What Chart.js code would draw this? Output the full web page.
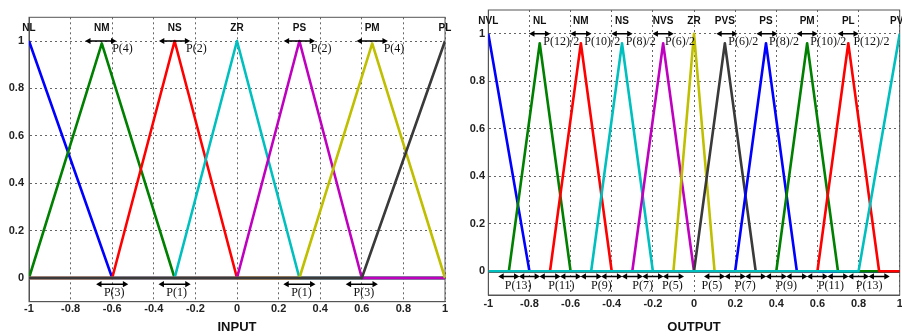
<!DOCTYPE html>
<html>
<head>
<meta charset="utf-8">
<script src="https://cdn.jsdelivr.net/npm/chart.js@4.4.1/dist/chart.umd.min.js"></script>
<style>
html, body { margin: 0; padding: 0; background: #fff; overflow: hidden; width: 902px; height: 336px; }
canvas { position: absolute; top: 0; }
#input { left: 0; }
#output { left: 458px; }
</style>
</head>
<body>
<canvas id="input" width="458" height="336"></canvas>
<canvas id="output" width="450" height="336"></canvas>
<script>
// axis ticks (same on both plots)
const xTicks = [-1, -0.8, -0.6, -0.4, -0.2, 0, 0.2, 0.4, 0.6, 0.8, 1];
const xTickLabels = ['-1', '-0.8', '-0.6', '-0.4', '-0.2', '0', '0.2', '0.4', '0.6', '0.8', '1'];
const yTicks = [0, 0.2, 0.4, 0.6, 0.8, 1];
const yTickLabels = ['0', '0.2', '0.4', '0.6', '0.8', '1'];

// INPUT membership functions: left foot, peak, right foot, peak height
const inNames = ['NL', 'NM', 'NS', 'ZR', 'PS', 'PM', 'PL'];
const inFootL = [-1, -1, -0.6, -0.3, 0, 0.3, 0.6];
const inPeak = [-1, -0.65, -0.3, 0, 0.3, 0.65, 1];
const inFootR = [-0.6, -0.3, 0, 0.3, 0.6, 1, 1];
const inHeight = [1, 0.99, 1, 1, 1, 0.99, 1];
const inTopArrows = [-0.655, -0.3, 0.3, 0.65];
const inTopText = ['P(4)', 'P(2)', 'P(2)', 'P(4)'];
const inTopTextX = [-0.6, -0.245, 0.355, 0.705];
const inBottomArrows = [-0.6, -0.3, 0.3, 0.6];
const inBottomText = ['P(3)', 'P(1)', 'P(1)', 'P(3)'];
const inBottomTextX = [-0.59, -0.29, 0.31, 0.61];

// OUTPUT membership functions
const outNames = ['NVL', 'NL', 'NM', 'NS', 'NVS', 'ZR', 'PVS', 'PS', 'PM', 'PL', 'PVL'];
const outFootL = [-1, -0.9, -0.7, -0.5, -0.3, -0.1, 0, 0.2, 0.4, 0.6, 0.8];
const outPeak = [-1, -0.75, -0.55, -0.35, -0.15, 0, 0.15, 0.35, 0.55, 0.75, 1];
const outFootR = [-0.8, -0.6, -0.4, -0.2, 0, 0.1, 0.3, 0.5, 0.7, 0.9, 1];
const outHeight = [1, 0.96, 0.96, 0.96, 0.96, 1, 0.96, 0.96, 0.96, 0.96, 1];
const outTopArrows = [-0.75, -0.55, -0.35, -0.15, 0.16, 0.355, 0.55, 0.75];
const outTopText = ['P(12)/2', 'P(10)/2', 'P(8)/2', 'P(6)/2', 'P(6)/2', 'P(8)/2', 'P(10)/2', 'P(12)/2'];
const outTopTextX = [-0.733, -0.533, -0.332, -0.141, 0.167, 0.365, 0.565, 0.775];
const outBottomArrows = [-0.9, -0.8, -0.7, -0.6, -0.5, -0.4, -0.3, -0.2, -0.1, 0.1, 0.2, 0.3, 0.4, 0.5, 0.6, 0.7, 0.8, 0.9];
const outBottomText = ['P(13)', 'P(11)', 'P(9)', 'P(7)', 'P(5)', 'P(5)', 'P(7)', 'P(9)', 'P(11)', 'P(13)'];
const outBottomTextX = [-0.855, -0.645, -0.45, -0.25, -0.105, 0.087, 0.25, 0.45, 0.666, 0.851];

const mfColors = ['#0000ff', '#008000', '#ff0000', '#00bfbf', '#bf00bf', '#bfbf00', '#3a3a3a'];
const tickFont = { family: 'Liberation Sans, Arial, sans-serif', size: 11, weight: 'bold' };
const nameFont = 'bold 10px "Liberation Sans", Arial, sans-serif';
const pFont = '12px "Liberation Serif", "Times New Roman", serif';

const triangle = (a, b, c, h) => {
	let pts = [];
	if (a > -1) pts.push({ x: -1, y: 0 });
	if (a < b) pts.push({ x: a, y: 0 });
	pts.push({ x: b, y: h });
	if (c > b) pts.push({ x: c, y: 0 });
	if (c < 1) pts.push({ x: 1, y: 0 });
	return pts;
};

const mfDatasets = (footL, peak, footR, height) => {
	return peak.map((p, i) => ({
		data: triangle(footL[i], p, footR[i], height[i]),
		showLine: true,
		borderColor: mfColors[i % 7],
		borderWidth: 2.6,
		borderJoinStyle: 'round',
		pointRadius: 0,
		tension: 0,
		order: -i
	}));
};

const arrowDataset = (centers, half, y) => {
	let pts = [];
	centers.forEach((c) => {
		pts.push({ x: c - half, y: y });
		pts.push({ x: c + half, y: y });
		pts.push({ x: c + half, y: null });
	});
	return {
		data: pts,
		showLine: true,
		spanGaps: false,
		borderColor: '#000',
		borderWidth: 1.5,
		pointStyle: 'triangle',
		pointRadius: (ctx) => (ctx.dataIndex % 3 === 2 ? 0 : 3.6),
		pointRotation: (ctx) => (ctx.dataIndex % 3 === 0 ? 270 : 90),
		pointBackgroundColor: '#000',
		pointBorderColor: '#000',
		pointBorderWidth: 0,
		order: -100
	};
};

// box round the plot area + annotation texts
const boxPlugin = {
	id: 'box',
	beforeDatasetsDraw(chart) {
		const { ctx, chartArea: a } = chart;
		ctx.save();
		ctx.strokeStyle = '#555';
		ctx.lineWidth = 1;
		ctx.strokeRect(a.left, a.top, a.right - a.left, a.bottom - a.top);
		ctx.restore();
	}
};

const textPlugin = {
	id: 'mfText',
	afterDatasetsDraw(chart, args, opts) {
		const { ctx, scales } = chart;
		ctx.save();
		ctx.textBaseline = 'middle';
		opts.items.forEach((it) => {
			ctx.font = it.font;
			ctx.fillStyle = '#111';
			ctx.textAlign = it.align;
			ctx.fillText(it.text, scales.x.getPixelForValue(it.x), scales.y.getPixelForValue(it.y));
		});
		ctx.restore();
	}
};

const textItems = (names, peak, topText, topX, bottomText, bottomX) => {
	let items = [];
	names.forEach((n, i) => items.push({ text: n, x: peak[i], y: 1.052, align: 'center', font: nameFont }));
	topText.forEach((t, i) => items.push({ text: t, x: topX[i], y: 0.968, align: 'left', font: pFont }));
	bottomText.forEach((t, i) => items.push({ text: t, x: bottomX[i], y: -0.063, align: 'center', font: pFont }));
	return items;
};

const makeChart = (id, datasets, items, title, box) => {
	return new Chart(document.getElementById(id), {
		type: 'scatter',
		data: { datasets: datasets },
		options: {
			responsive: false,
			animation: false,
			layout: { padding: { top: box.top, right: box.right, left: 0, bottom: 0 } },
			plugins: {
				legend: { display: false },
				tooltip: { enabled: false },
				mfText: { items: items }
			},
			scales: {
				x: {
					type: 'linear',
					min: -1,
					max: 1,
					afterBuildTicks: (axis) => { axis.ticks = xTicks.map((v) => ({ value: v })); },
					afterFit: (s) => { s.height = box.xHeight; },
					ticks: {
						callback: (v, i) => xTickLabels[i],
						font: tickFont,
						color: '#222',
						padding: box.xPad,
						maxRotation: 0
					},
					grid: { color: '#666', lineWidth: 1, drawTicks: false },
					border: { display: true, color: '#555', width: 1, dash: [2, 3] },
					title: {
						display: true,
						text: title,
						font: { family: 'Liberation Sans, Arial, sans-serif', size: 13, weight: 'bold' },
						color: '#111',
						padding: { top: 0, bottom: 1 }
					}
				},
				y: {
					min: -0.1,
					max: 1.1,
					afterBuildTicks: (axis) => { axis.ticks = yTicks.map((v) => ({ value: v })); },
					afterFit: (s) => { s.width = box.yWidth; },
					ticks: {
						callback: (v, i) => yTickLabels[i],
						font: tickFont,
						color: '#222',
						padding: box.yPad
					},
					grid: { color: '#666', lineWidth: 1, drawTicks: false },
					border: { display: true, color: '#555', width: 1, dash: [2, 3] }
				}
			}
		},
		plugins: [boxPlugin, textPlugin]
	});
};

const inDatasets = mfDatasets(inFootL, inPeak, inFootR, inHeight);
inDatasets.push(arrowDataset(inTopArrows, 0.058, 1));
inDatasets.push(arrowDataset(inBottomArrows, 0.06, -0.026));

const outDatasets = mfDatasets(outFootL, outPeak, outFootR, outHeight);
outDatasets.push(arrowDataset(outTopArrows, 0.034, 1));
outDatasets.push(arrowDataset(outBottomArrows, 0.034, -0.022));

makeChart('input', inDatasets,
	textItems(inNames, inPeak, inTopText, inTopTextX, inBottomText, inBottomTextX),
	'INPUT', { top: 17.3, right: 13, xHeight: 34.3, yWidth: 29, xPad: 1, yPad: 5 });

makeChart('output', outDatasets,
	textItems(outNames, outPeak, outTopText, outTopTextX, outBottomText, outBottomTextX),
	'OUTPUT', { top: 10, right: 8.3, xHeight: 41, yWidth: 30.3, xPad: 2.5, yPad: 3.3 });
</script>
</body>
</html>
